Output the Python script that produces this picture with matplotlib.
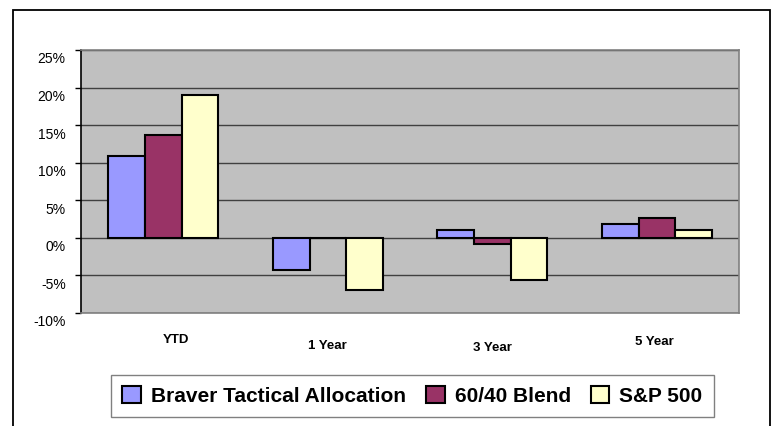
import numpy as np
import matplotlib.pyplot as plt
from matplotlib.patches import Rectangle
from matplotlib.ticker import FuncFormatter
from matplotlib.transforms import ScaledTranslation

plt.rcParams['font.family'] = ['Liberation Sans', 'DejaVu Sans']

categories = ['YTD', '1 Year', '3 Year', '5 Year']
series_names = ['Braver Tactical Allocation', '60/40 Blend', 'S&P 500']
braver = [10.9, -4.3, 1.0, 1.8]
blend = [13.7, 0.0, -0.8, 2.6]
sp500 = [19.0, -7.0, -5.6, 1.0]
colors = ['#9999FF', '#993366', '#FFFFCC']
yticks = [-10, -5, 0, 5, 10, 15, 20, 25]

fig = plt.figure(figsize=(7.76, 4.26), dpi=100)
ax = fig.add_axes([0.1044, 0.2653, 0.848, 0.6174])
ax.set_facecolor('#C0C0C0')

# outer chart frame
fig.patches.append(Rectangle((13/776, -0.05), (770-13)/776, 1.05 - 10/426,
                             transform=fig.transFigure, fill=False,
                             edgecolor='black', linewidth=1.3))

x = np.arange(len(categories))
w = 1 / 4.5
for i, (vals, name) in enumerate(zip([braver, blend, sp500], series_names)):
    ax.bar(x + (i - 1) * w, vals, width=w, color=colors[i], edgecolor='black',
           linewidth=1.5, label=name, zorder=3)

ax.set_xlim(-0.5, len(categories) - 0.5)
ax.set_ylim(-10, 25)
ax.set_yticks(yticks)
ax.yaxis.set_major_formatter(FuncFormatter(lambda v, p: f'{v:.0f}%'))
ax.grid(axis='y', color='#404040', linewidth=1, zorder=1)
ax.tick_params(axis='y', length=4, width=1, labelsize=10, pad=7)
ax.set_xticks(x)
ax.set_xticklabels(categories, fontsize=9.5, fontweight='bold')
ax.tick_params(axis='x', length=0, pad=17)

# excel draws the value labels a bit below their ticks
for lab in ax.get_yticklabels():
    lab.set_transform(lab.get_transform() + ScaledTranslation(0, -0.08, fig.dpi_scale_trans))
# and the category labels slightly staggered
label_shift = [(0.13, 0.03), (0.0, -0.03), (0.0, -0.05), (-0.02, 0.01)]
for lab, (dx, dy) in zip(ax.get_xticklabels(), label_shift):
    lab.set_transform(lab.get_transform() + ScaledTranslation(dx, dy, fig.dpi_scale_trans))

ax.spines['left'].set_color('black')
ax.spines['left'].set_linewidth(1.2)
for s in ['bottom', 'right', 'top']:
    ax.spines[s].set_color('#808080')
    ax.spines[s].set_linewidth(1.2)

leg = fig.legend(loc='lower left', bbox_to_anchor=(0.143, 0.021), ncol=3,
                 frameon=True, fancybox=False, borderaxespad=0,
                 prop={'size': 15, 'weight': 'bold'}, handlelength=0.9,
                 handleheight=0.85, handletextpad=0.48, columnspacing=0.95,
                 borderpad=0.55)
leg.get_frame().set_edgecolor('#606060')
leg.get_frame().set_linewidth(1)

fig.savefig('out.png', dpi=100)
